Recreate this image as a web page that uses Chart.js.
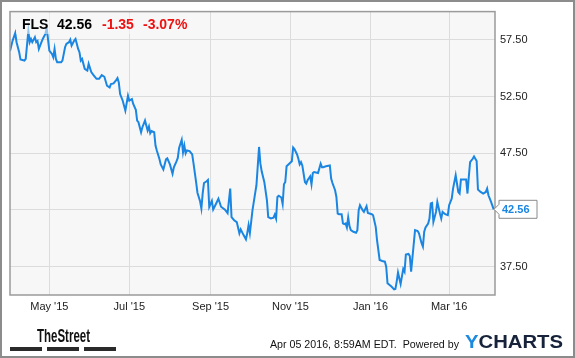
<!DOCTYPE html>
<html>
<head>
<meta charset="utf-8">
<script src="https://cdn.jsdelivr.net/npm/chart.js@4"></script>
<style>
html,body{margin:0;padding:0;background:#fff;}
canvas{display:block;}
</style>
</head>
<body>
<canvas id="c" width="575" height="358"></canvas>
<script>
// Days counted from 2015-04-01
const dayOffsets = [0,2,4,5,7,8,11,12,14,15,16,17,19,20,21,22,24,25,27,28,30,32,33,34,35,36,39,40,42,43,45,46,47,49,50,52,53,54,55,57,59,60,62,64,66,68,70,72,74,76,77,79,81,82,83,84,86,88,90,91,93,94,96,97,98,100,101,103,105,106,107,108,110,111,112,114,115,117,119,120,122,124,125,127,128,129,131,132,133,134,135,137,139,140,142,143,145,146,147,148,150,151,152,154,155,157,159,161,164,166,168,169,171,173,175,176,178,180,181,182,183,185,187,188,190,191,192,194,196,197,199,201,202,203,204,205,207,208,209,210,211,213,215,216,217,219,220,221,222,223,225,226,227,229,230,231,232,235,237,238,239,241,244,245,246,248,249,250,251,253,254,255,256,257,258,259,260,262,264,265,266,267,269,270,272,273,276,277,279,280,281,282,284,286,287,288,291,293,294,295,296,297,298,300,301,302,304,305,306,308,309,311,312,314,315,316,317,319,320,321,322,323,325,326,328,329,330,332,334,335,337,338,340,342,343,344,346,348,349,350,351,353,354,356,357,359,361,363,364,365,367,369];
const prices = [56.53,57.44,58.11,57.30,56.42,55.77,55.68,55.83,58.29,57.30,57.59,57.30,57.74,57.30,57.41,56.71,57.30,57.59,58.03,58.55,56.56,56.27,55.98,56.71,55.83,55.54,55.54,55.68,56.86,57.15,57.30,57.53,57.00,57.44,57.59,56.71,56.42,55.68,55.83,54.95,54.80,55.39,54.66,54.36,54.07,54.07,54.40,54.25,53.46,53.31,53.61,53.66,53.96,54.14,53.75,52.73,52.14,51.26,52.58,52.14,52.29,51.85,51.33,50.39,50.24,49.36,49.80,50.39,49.51,49.86,49.27,49.46,49.36,48.19,47.75,47.00,46.52,46.08,46.96,47.05,46.52,45.69,46.26,46.79,47.09,47.97,48.69,47.58,48.19,47.49,47.75,47.69,47.40,46.61,44.94,44.02,43.27,42.63,43.97,44.88,45.03,45.14,42.77,43.30,42.54,43.01,43.49,42.79,42.53,42.22,44.39,41.87,41.60,41.43,40.44,40.79,40.33,39.91,40.46,41.16,40.46,42.48,43.97,44.68,48.06,46.61,45.91,44.97,43.36,41.87,41.75,41.82,42.09,41.74,43.65,43.76,43.60,43.03,44.77,44.97,46.35,46.57,46.79,48.01,47.87,47.40,47.02,46.52,46.72,46.43,44.97,44.83,45.12,45.47,44.77,45.76,45.85,45.76,46.58,46.28,46.28,46.35,46.43,45.27,44.88,44.24,43.65,42.19,42.13,42.13,41.31,41.25,41.31,40.96,41.84,41.08,40.72,40.58,40.49,40.72,42.48,42.92,42.48,42.33,42.83,42.24,42.13,42.04,41.01,39.85,38.97,38.09,38.00,37.94,37.50,36.04,35.75,35.50,35.54,36.18,36.99,36.48,35.98,37.30,37.06,38.57,38.62,38.44,37.06,39.50,40.72,40.64,40.44,39.56,39.26,40.58,40.96,41.31,41.75,43.07,43.12,41.45,42.33,43.21,42.19,41.75,42.33,42.13,42.04,42.92,43.51,44.39,45.56,44.09,43.95,45.18,45.18,45.18,43.95,45.41,46.72,47.02,47.22,46.81,44.30,44.09,43.95,44.09,44.39,43.80,43.21,42.56];
const monthTickDays = [30,91,153,214,275,335];
const monthTickLabels = ["May '15","Jul '15","Sep '15","Nov '15","Jan '16","Mar '16"];
const priceTicks = [37.5,42.5,47.5,52.5,57.5];
const header = {ticker:"FLS", last:"42.56", change:"-1.35", pct:"-3.07%"};
const footerStamp = "Apr 05 2016, 8:59AM EDT.  Powered by";

const FONT = "'Liberation Sans', Arial, sans-serif";
Chart.defaults.font.family = FONT;
Chart.defaults.font.size = 11;
Chart.defaults.color = '#222';

const LINE = '#1a86e2';

const deco = {
  id:'deco',
  beforeDraw(chart){
    const ctx = chart.ctx, a = chart.chartArea;
    ctx.save();
    ctx.fillStyle = '#fff';
    ctx.fillRect(0,0,chart.width,chart.height);
    ctx.fillStyle = '#f7f7f7';
    ctx.fillRect(a.left,a.top,a.right-a.left,a.bottom-a.top);
    ctx.restore();
  },
  afterDatasetsDraw(chart){
    const ctx = chart.ctx;
    ctx.save();
    ctx.fillStyle = 'rgba(247,247,247,0.55)';
    ctx.fillRect(16,13,178,21);
    ctx.font = 'bold 14px ' + FONT;
    ctx.textBaseline = 'alphabetic';
    ctx.textAlign = 'left';
    ctx.fillStyle = '#000';
    ctx.fillText(header.ticker,22,29);
    ctx.fillText(header.last,57,29);
    ctx.fillStyle = '#ee1111';
    ctx.fillText(header.change,102,29);
    ctx.fillText(header.pct,143,29);
    ctx.restore();
  },
  afterDraw(chart){
    const ctx = chart.ctx, a = chart.chartArea;
    ctx.save();
    ctx.strokeStyle = '#9a9a9a';
    ctx.lineWidth = 1.5;
    ctx.strokeRect(a.left, a.top, a.right-a.left, a.bottom-a.top);
    ctx.strokeStyle = '#8c8c8c';
    ctx.lineWidth = 2;
    ctx.strokeRect(1,1,chart.width-2,chart.height-2);

    const meta = chart.getDatasetMeta(0);
    const pt = meta.data[meta.data.length-1];
    const py = pt.y;
    const tipX = a.right - 1;
    const bx = a.right + 4, bw = 38, bh = 18;
    ctx.beginPath();
    ctx.moveTo(tipX, py);
    ctx.lineTo(bx, py - 5);
    ctx.lineTo(bx, py - bh/2);
    ctx.lineTo(bx + bw, py - bh/2);
    ctx.lineTo(bx + bw, py + bh/2);
    ctx.lineTo(bx, py + bh/2);
    ctx.lineTo(bx, py + 5);
    ctx.closePath();
    ctx.fillStyle = '#fff';
    ctx.fill();
    ctx.strokeStyle = '#8a8a8a';
    ctx.lineWidth = 1;
    ctx.stroke();
    ctx.fillStyle = LINE;
    ctx.font = 'bold 11px ' + FONT;
    ctx.textBaseline = 'middle';
    ctx.textAlign = 'left';
    ctx.fillText(prices[prices.length-1].toFixed(2), bx + 3, py + 1);

    ctx.fillStyle = '#111';
    ctx.save();
    ctx.font = 'bold 18px ' + FONT;
    const tw = ctx.measureText('TheStreet').width;
    ctx.translate(37, 342);
    ctx.scale(53 / tw, 1);
    ctx.textBaseline = 'alphabetic';
    ctx.fillText('TheStreet', 0, 0);
    ctx.restore();
    ctx.fillStyle = '#2a2a2a';
    ctx.fillRect(10,347,32,4);
    ctx.fillRect(47,347,32,4);
    ctx.fillRect(84,347,32,4);

    ctx.fillStyle = '#111';
    ctx.font = '11px ' + FONT;
    ctx.textBaseline = 'alphabetic';
    ctx.fillText(footerStamp, 270, 348, 189);

    ctx.save();
    ctx.font = 'bold 19px ' + FONT;
    const yw = ctx.measureText('Y').width;
    const cw = ctx.measureText('CHARTS').width;
    ctx.translate(465, 348);
    ctx.scale(98 / (yw + cw), 1);
    ctx.fillStyle = '#1b8ae0';
    ctx.fillText('Y', 0, 0);
    ctx.fillStyle = '#17233a';
    ctx.fillText('CHARTS', yw, 0);
    ctx.restore();
    ctx.restore();
  }
};

new Chart(document.getElementById('c'), {
  type:'line',
  data:{
    datasets:[{
      data: dayOffsets.map((d,i)=>({x:d, y:prices[i]})),
      borderColor: LINE,
      borderWidth: 2,
      pointRadius: 0,
      tension: 0,
      fill: false
    }]
  },
  options:{
    responsive:false,
    animation:false,
    devicePixelRatio:1,
    layout:{padding:{left:10, top:10, right:0, bottom:0}},
    plugins:{legend:{display:false}, tooltip:{enabled:false}},
    scales:{
      x:{
        type:'linear', position:'bottom', min:0, max:370,
        afterBuildTicks(s){ s.ticks = monthTickDays.map(v=>({value:v})); },
        afterFit(s){ s.height = 63; },
        grid:{color:'#dcdcdc', lineWidth:1, drawTicks:false},
        border:{display:false},
        ticks:{autoSkip:false, maxRotation:0, padding:5, color:'#222',
          callback(v,i){ return monthTickLabels[i]; }}
      },
      y:{
        type:'linear', position:'right', min:35, max:60,
        afterBuildTicks(s){ s.ticks = priceTicks.map(v=>({value:v})); },
        afterFit(s){ s.width = 80; },
        grid:{color:'#dcdcdc', lineWidth:1, drawTicks:false},
        border:{display:false},
        ticks:{padding:5, color:'#222', callback(v){ return Number(v).toFixed(2); }}
      }
    }
  },
  plugins:[deco]
});
</script>
</body>
</html>
